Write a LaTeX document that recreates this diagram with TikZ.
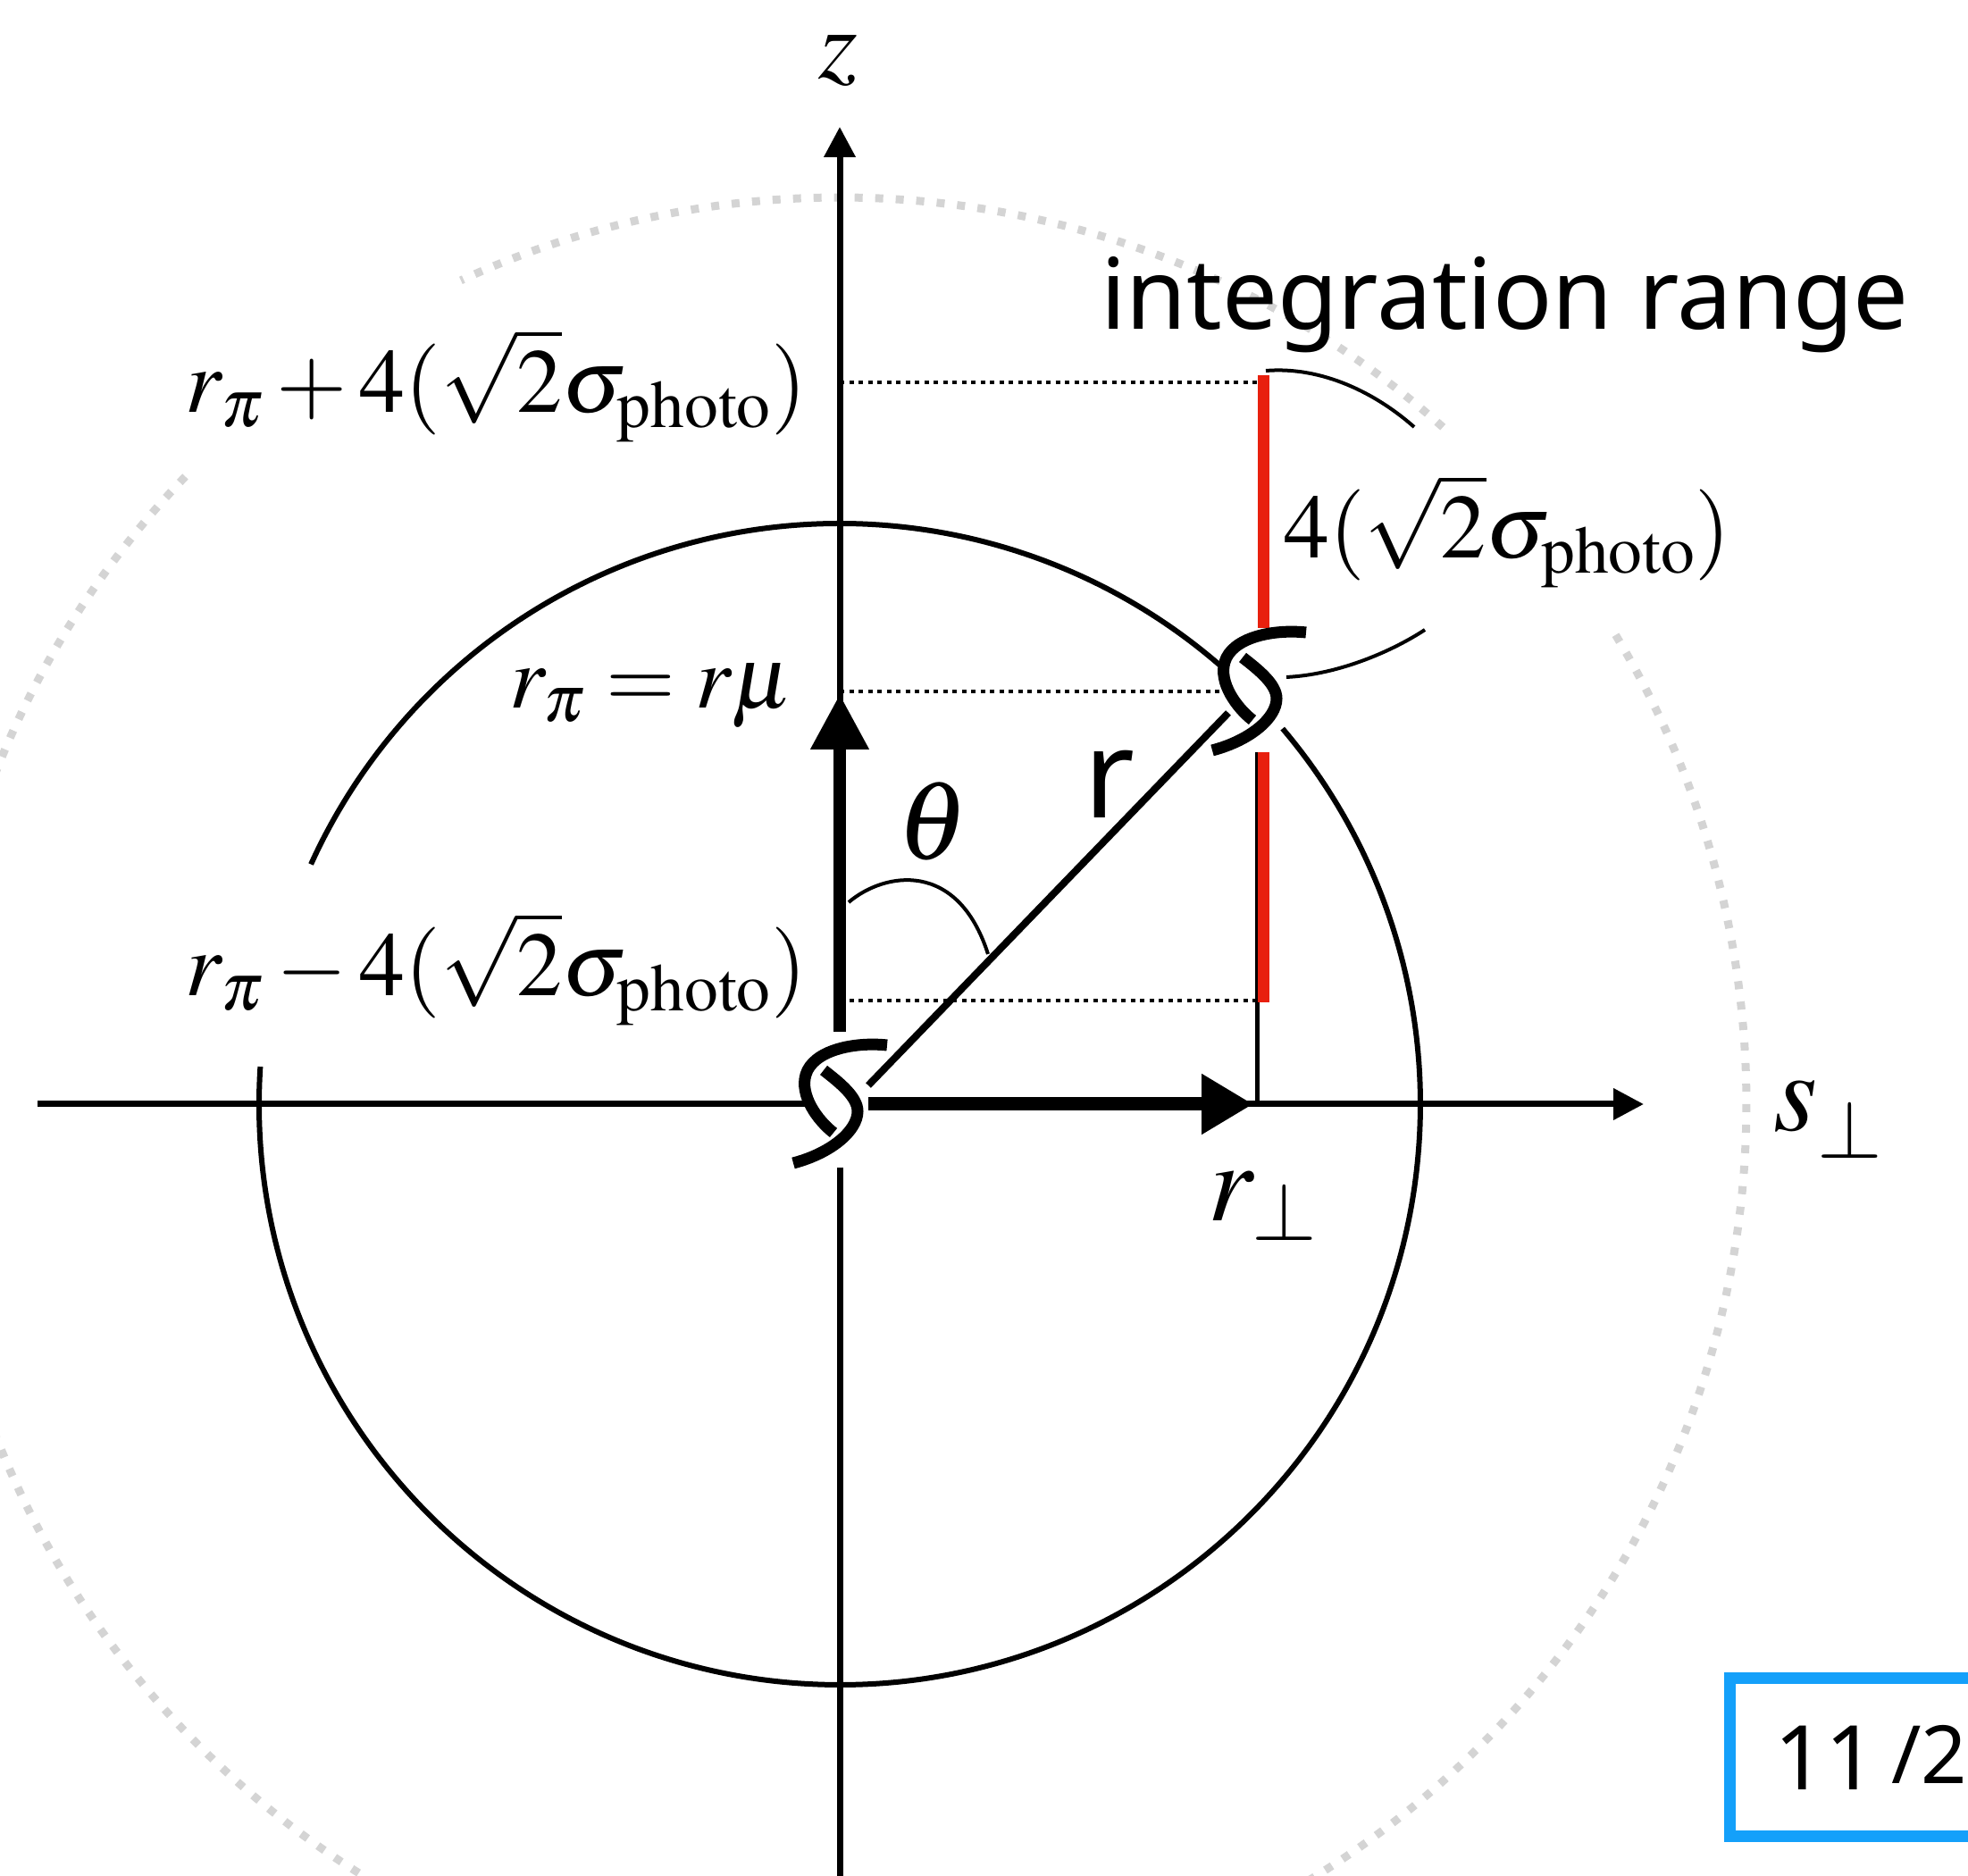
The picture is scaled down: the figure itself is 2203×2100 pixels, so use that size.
\documentclass[tikz,border=0pt]{standalone}
\usepackage{mathptmx}
\usepackage[no-math]{fontspec}
\setmainfont{Liberation Serif}
\newfontfamily\labsans{Noto Sans}
\usetikzlibrary{arrows.meta}
\definecolor{dotgray}{RGB}{212,212,212}
\definecolor{rangered}{RGB}{232,32,14}
\definecolor{pageblue}{RGB}{20,160,250}
\begin{document}
\begin{tikzpicture}[x=1pt,y=1pt,
  axisline/.style={line width=7pt},
  axisarrow/.style={axisline,-{Triangle[length=34pt,width=34pt]}},
  bigcircle/.style={line width=6pt},
  outercircle/.style={dotgray,line width=9pt,dash pattern=on 9pt off 14pt},
  guide/.style={line width=4.5pt,dash pattern=on 5pt off 5.5pt},
  vecup/.style={line width=14pt,-{Triangle[length=62pt,width=62pt]}},
  vecright/.style={line width=15pt,-{Triangle[length=58pt,width=64pt]}},
  leader/.style={line width=4pt},
  rangebar/.style={rangered,line width=13pt},
  mathlab/.style={inner sep=0pt,font=\fontsize{102}{120}\selectfont},
  biglab/.style={inner sep=0pt,font=\fontsize{126}{150}\selectfont},
  breakmark/.pic={
    \draw[line width=13pt] (53,66) .. controls (15,70) and (-30,60) .. (-38,33)
      .. controls (-45,10) and (-25,-18) .. (-7,-32);
    \draw[line width=13pt] (-18,38) .. controls (0,24) and (20,8) .. (20,-8)
      .. controls (20,-30) and (-10,-55) .. (-52,-66);
  }]
\useasboundingbox (0,0) rectangle (2203,2100);
\clip (0,0) rectangle (2203,2100);

% key coordinates
\coordinate (O) at (940,864);
\coordinate (P) at (1409,1326);
\coordinate (zTip) at (940,1958);
\coordinate (zUpStart) at (940,945);
\coordinate (zDownStart) at (940,793);
\coordinate (zBottom) at (940,0);
\coordinate (sLeft) at (42,864);
\coordinate (sLeftEnd) at (903,864);
\coordinate (sRightStart) at (972,864);
\coordinate (sTip) at (1840,864);
\coordinate (rPerpTip) at (1403,864);
\coordinate (rPiTip) at (940,1323);
\coordinate (rStart) at (972,885);
\coordinate (rEnd) at (1375,1302);
\coordinate (footBottom) at (1407,864);
\coordinate (footTop) at (1407,1258);
\coordinate (zHi) at (940,1672);
\coordinate (zMid) at (940,1326);
\coordinate (zLo) at (940,980);
\coordinate (hiEnd) at (1407,1672);
\coordinate (midEnd) at (1372,1326);
\coordinate (loEnd) at (1407,980);
\coordinate (redLoA) at (1414,978);
\coordinate (redLoB) at (1414,1258);
\coordinate (redHiA) at (1414,1397);
\coordinate (redHiB) at (1414,1680);
\coordinate (thA) at (950,1090);
\coordinate (thB) at (1106,1032);
\coordinate (ldA1) at (1417,1685);
\coordinate (ldA2) at (1583,1622);
\coordinate (ldB1) at (1440,1342);
\coordinate (ldB2) at (1595,1395);

% outer dotted circle
\draw[outercircle] (O) ++(48.3:1015) arc[start angle=48.3,end angle=114.7,radius=1015];
\draw[outercircle] (O) ++(136.2:1015) arc[start angle=136.2,end angle=391.3,radius=1015];

% circle of radius r
\draw[bigcircle] (O) ++(48.9:650) arc[start angle=48.9,end angle=155.6,radius=650];
\draw[bigcircle] (O) ++(176.3:650) arc[start angle=176.3,end angle=400.3,radius=650];

% axes
\draw[axisline] (sLeft) -- (sLeftEnd);
\draw[axisarrow] (sRightStart) -- (sTip);
\draw[axisarrow] (zUpStart) -- (zTip);
\draw[axisline] (zDownStart) -- (zBottom);

% dotted guides
\draw[guide] (zHi) -- (hiEnd);
\draw[guide] (zMid) -- (midEnd);
\draw[guide] (zLo) -- (loEnd);

% foot of r_perp and integration range
\draw[line width=5pt] (footBottom) -- (footTop);
\draw[rangebar] (redLoA) -- (redLoB);
\draw[rangebar] (redHiA) -- (redHiB);

% r vector
\draw[line width=8pt] (rStart) -- (rEnd);

% thick component vectors
\draw[vecup] (zUpStart) -- (rPiTip);
\draw[vecright] (sRightStart) -- (rPerpTip);

% theta arc
\draw[leader] (thA) .. controls (990,1124) and (1072,1138) .. (thB);

% break marks
\pic at (O) {breakmark};
\pic at (P) {breakmark};

% leaders to the range label
\draw[leader] (ldA1) .. controls (1480,1690) and (1540,1660) .. (ldA2);
\draw[leader] (ldB1) .. controls (1500,1345) and (1560,1372) .. (ldB2);

% labels
\node[inner sep=0pt,font=\fontsize{112}{120}\selectfont] (zLab) at (938,2032) {$z$};
\node[mathlab,anchor=base east] (labHi) at (903,1638) {$r_\pi + 4(\sqrt{2}\sigma_{\mathrm{photo}})$};
\node[mathlab,anchor=base east,font=\fontsize{100}{120}\selectfont] (labMid) at (888,1307) {$r_\pi = r\mu$};
\node[mathlab,anchor=base east] (labLo) at (903,985) {$r_\pi - 4(\sqrt{2}\sigma_{\mathrm{photo}})$};
\node[mathlab,anchor=base west] (labRange) at (1437,1475) {$4(\sqrt{2}\sigma_{\mathrm{photo}})$};
\node[inner sep=0pt,font=\fontsize{125}{140}\selectfont] (labTheta) at (1044,1180) {$\theta$};
\node[inner sep=0pt,font=\labsans\fontsize{138}{150}\selectfont] (labR) at (1242,1222) {r};
\node[biglab,anchor=base west] (labS) at (1985,834) {$s_{\raisebox{-12pt}{$\scriptstyle\perp$}}$};
\node[biglab,anchor=base west] (labRperp) at (1352,733) {$r_\perp$};
\node[inner sep=0pt,anchor=base west,font=\labsans\fontsize{110}{120}\selectfont] (labInt) at (1232,1731) {integration range};

% page box
\draw[pageblue,line width=13pt] (1936,44) rectangle (2215,221);
\node[inner sep=0pt,anchor=base west,font=\labsans\fontsize{100}{110}\selectfont] (pageNum) at (1986,96) {11};
\node[inner sep=0pt,anchor=base west,font=\labsans\fontsize{90}{100}\selectfont] (pageTot) at (2117,103) {/2};
\end{tikzpicture}
\end{document}
